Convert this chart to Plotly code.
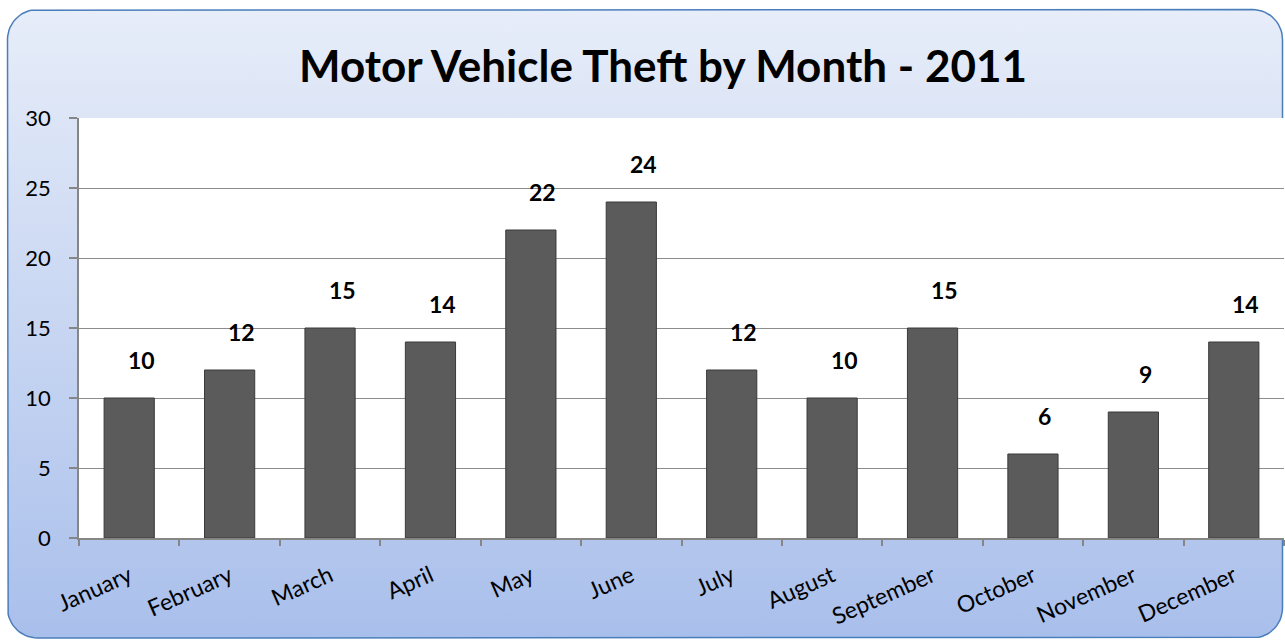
import numpy as np
import plotly.graph_objects as go

# ---- data ----
months = ["January", "February", "March", "April", "May", "June",
          "July", "August", "September", "October", "November", "December"]
thefts = [10, 12, 15, 14, 22, 24, 12, 10, 15, 6, 9, 14]
y_ticks = [0, 5, 10, 15, 20, 25, 30]
title_text = "Motor Vehicle Theft by Month - 2011"

W, H = 1285, 640
FONT = "Lato, Carlito, Calibri, sans-serif"

# ---- decorative rounded frame (pixel space on background axes) ----
def rounded_rect(x0, y0, x1, y1, r, n=16):
    xs, ys = [], []
    corners = [(x1 - r, y1 - r, 0, 90), (x0 + r, y1 - r, 90, 180),
               (x0 + r, y0 + r, 180, 270), (x1 - r, y0 + r, 270, 360)]
    for cx, cy, a0, a1 in corners:
        t = np.radians(np.linspace(a0, a1, n))
        xs.extend(cx + r * np.cos(t))
        ys.extend(cy + r * np.sin(t))
    xs.append(xs[0]); ys.append(ys[0])
    return xs, ys

fx, fy = rounded_rect(7.5, 2.0, 1282.5, 630.5, 30)

fig = go.Figure()
fig.add_trace(go.Scatter(
    x=fx, y=fy, mode="lines", fill="toself",
    line=dict(color="#4a7ebb", width=1.5),
    fillgradient=dict(type="vertical",
                      colorscale=[[0, "#a9bfeb"], [1, "#e7edf9"]]),
    hoverinfo="skip", showlegend=False, xaxis="x", yaxis="y"))

fig.add_trace(go.Bar(
    x=months, y=thefts, width=0.5,
    marker=dict(color="#5b5b5b", line=dict(color="#3a3a3a", width=1)),
    hoverinfo="x+y", showlegend=False, xaxis="x2", yaxis="y2"))

annotations = [
    dict(x=m, y=v, xref="x2", yref="y2", text=f"<b>{v}</b>",
         showarrow=False, xshift=12, yshift=38,
         font=dict(family=FONT, size=23, color="#000000"))
    for m, v in zip(months, thefts)
]
annotations.append(dict(
    x=0.516, y=1 - 65 / H, xref="paper", yref="paper", text=f"<b>{title_text}</b>",
    showarrow=False, xanchor="center", yanchor="middle",
    font=dict(family=FONT, size=44, color="#000000")))

fig.update_layout(
    template="none",
    width=W, height=H,
    margin=dict(l=0, r=0, t=0, b=0, pad=0),
    paper_bgcolor="#ffffff", plot_bgcolor="#ffffff",
    xaxis=dict(domain=[0, 1], range=[0, W], visible=False, fixedrange=True,
               automargin=False),
    yaxis=dict(domain=[0, 1], range=[0, H], visible=False, fixedrange=True,
               automargin=False),
    xaxis2=dict(domain=[79 / W, 1284 / W], anchor="y2", automargin=False,
                type="category", tickson="boundaries",
                ticks="outside", ticklen=6, tickcolor="#868686", tickwidth=1.5,
                showline=True, linecolor="#868686", linewidth=1.5,
                showgrid=False, tickangle=-24, zeroline=False,
                ticklabelstandoff=14,
                tickfont=dict(family=FONT, size=23, color="#000000")),
    yaxis2=dict(domain=[1 - 538 / H, 1 - 118 / H], anchor="x2", automargin=False,
                range=[0, 30], tickvals=y_ticks,
                ticks="outside", ticklen=8, tickcolor="#868686", tickwidth=1.5,
                showline=True, linecolor="#868686", linewidth=1.5,
                showgrid=True, gridcolor="#8c8c8c", gridwidth=1.2,
                zeroline=False, ticklabelstandoff=14,
                tickfont=dict(family=FONT, size=22, color="#000000")),
    annotations=annotations,
    bargap=0.5,
    showlegend=False,
)

fig.write_html("out.html",
               config={"displayModeBar": False},
               post_script="document.body.style.margin='0';"
                           "document.body.style.overflow='hidden';")
